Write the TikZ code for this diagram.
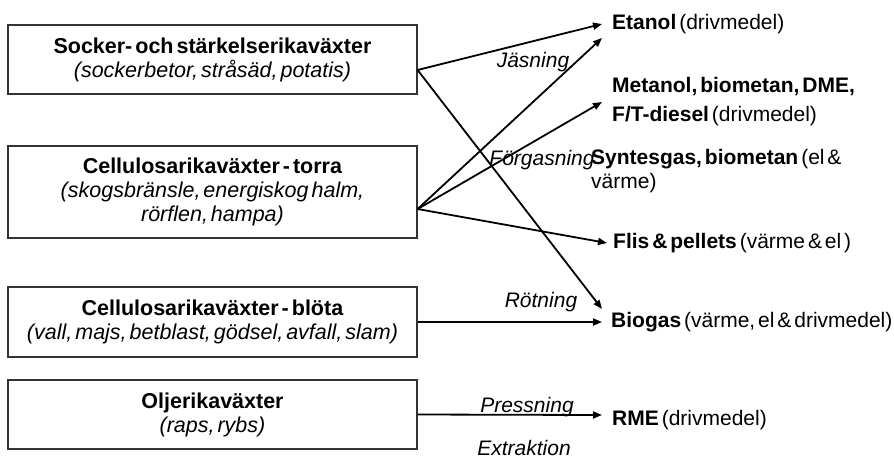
\documentclass[tikz,border=0pt]{standalone}
\usepackage{fontspec}
\setmainfont[WordSpace=0.5]{Liberation Sans}
\usetikzlibrary{arrows.meta,positioning}

\begin{document}
\begin{tikzpicture}[x=1pt,y=-1pt, every node/.style={font=\fontsize{21.5}{24}\selectfont},
  src/.style={draw=black!80, line width=1.2pt, minimum width=409pt, align=center, inner sep=0pt},
  prod/.style={anchor=west, align=left, inner xsep=0pt, font=\fontsize{21}{24}\selectfont},
  proc/.style={font=\fontsize{21}{24}\selectfont\itshape, inner sep=1pt},
  arr/.style={line width=1.8pt, -{Triangle[length=9pt,width=7pt]}}]
  \useasboundingbox (0,0) rectangle (894,459);
  % raw materials
  \node[src, minimum height=69pt] (socker) at (212.5,59.5)
    {\textbf{Socker- och stärkelserikaväxter}\\ \textit{(sockerbetor, stråsäd, potatis)}};
  \node[src, minimum height=92pt] (torra) at (212.5,192)
    {\textbf{Cellulosarikaväxter - torra}\\ \textit{(skogsbränsle, energiskog halm,}\\ \textit{rörflen, hampa)}};
  \node[src, minimum height=70pt] (blota) at (212.5,322)
    {\textbf{Cellulosarikaväxter - blöta}\\ \textit{(vall, majs, betblast, gödsel, avfall, slam)}};
  \node[src, minimum height=69pt] (olje) at (212.5,414.5)
    {\textbf{Oljerikaväxter}\\ \textit{(raps, rybs)}};
  % products
  \node[prod] (etanol) at (612,24) {\textbf{Etanol} (drivmedel)};
  \node[prod] (metanol) at (612,102) {\textbf{Metanol, biometan, DME,}\\[5pt]\textbf{F/T-diesel} (drivmedel)};
  \node[prod] (syntes) at (591,171) {\textbf{Syntesgas, biometan} (el \&\\värme)};
  \node[prod] (flis) at (613,243) {\textbf{Flis \& pellets} (värme \& el )};
  \node[prod] (biogas) at (611,322) {\textbf{Biogas} (värme, el \& drivmedel)};
  \node[prod] (rme) at (612,420) {\textbf{RME} (drivmedel)};
  % processes
  \node[proc] (jas) at (533,62) {Jäsning};
  \node[proc] (forg) at (542,160) {Förgasning};
  \node[proc] (rot) at (541,302) {Rötning};
  \node[proc] (press) at (527,407) {Pressning};
  \node[proc] (extr) at (524,448) {Extraktion};
  \coordinate (s1) at ([yshift=-10.5pt]socker.east);
  \coordinate (s2) at ([yshift=-17pt]torra.east);
  \draw[arr] (s1) -- ([xshift=-10pt]etanol.west);
  \draw[arr] (s1) -- ([xshift=-9pt,yshift=13pt]biogas.west);
  \draw[arr] (s2) -- ([xshift=-10pt,yshift=-14pt]etanol.west);
  \draw[arr] (s2) -- ([xshift=-10pt]metanol.west);
  \draw[arr] (s2) -- ([xshift=-6pt]flis.west);
  \draw[arr] (blota.east) -- ([xshift=-9pt]biogas.west);
  \draw[arr] (olje.east) -- ([xshift=-10pt,yshift=5pt]rme.west);
\end{tikzpicture}
\end{document}
